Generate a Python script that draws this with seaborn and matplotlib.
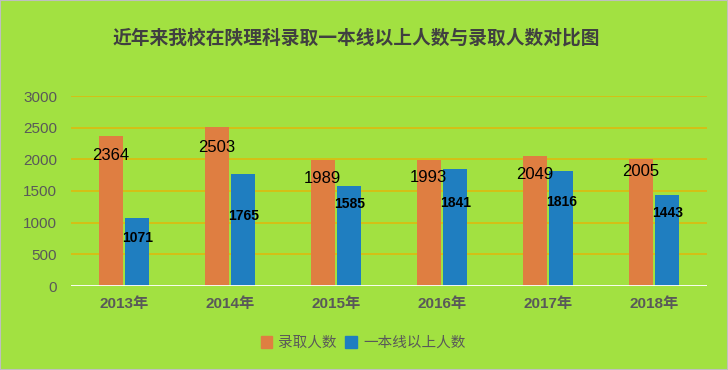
import matplotlib
matplotlib.use("Agg")
import matplotlib.pyplot as plt
import seaborn as sns
import pandas as pd
from matplotlib.patches import Patch, Rectangle

years = ["2013年", "2014年", "2015年", "2016年", "2017年", "2018年"]
admitted = [2364, 2503, 1989, 1993, 2049, 2005]
first_tier = [1071, 1765, 1585, 1841, 1816, 1443]
series_names = ["录取人数", "一本线以上人数"]
title = "近年来我校在陕理科录取一本线以上人数与录取人数对比图"
y_ticks = [0, 500, 1000, 1500, 2000, 2500, 3000]

# label anchor heights (layout, in data units)
admitted_label_y = [2068, 2184, 1690, 1710, 1763, 1805]
first_tier_label_y = [763, 1110, 1290, 1305, 1331, 1148]

BG = "#A2E141"
ORANGE = "#DF7E41"
BLUE = "#1F7EC0"
GRID = "#E2B70A"
TXT = "#595959"

sns.set_theme(style="white")
plt.rcParams["font.family"] = ["Liberation Sans", "Noto Sans CJK SC", "DejaVu Sans"]

df = pd.DataFrame({
    "year": years * 2,
    "value": admitted + first_tier,
    "series": [series_names[0]] * len(years) + [series_names[1]] * len(years),
})

fig = plt.figure(figsize=(7.28, 3.70), dpi=100)
fig.patch.set_facecolor(BG)
ax = fig.add_axes([71 / 728, 1 - 286 / 370, 636 / 728, 190 / 370])
ax.set_facecolor(BG)

sns.barplot(data=df, x="year", y="value", hue="series", order=years,
            hue_order=series_names, palette=[ORANGE, BLUE], width=0.5,
            gap=0.1, linewidth=0, saturation=1, legend=False, ax=ax, zorder=3)

ax.set_ylim(0, 3000)
ax.set_xlim(-0.5, len(years) - 0.5)
ax.set_yticks(y_ticks)
ax.set_yticklabels([str(t) for t in y_ticks], fontsize=11, color=TXT)
ax.set_xticklabels(years, fontsize=11, color=TXT, fontweight="bold")
ax.tick_params(axis="both", length=0)
ax.tick_params(axis="y", pad=10)
ax.tick_params(axis="x", pad=8)
ax.set_xlabel("")
ax.set_ylabel("")
for t in y_ticks[1:]:
    ax.axhline(t, color=GRID, lw=1.1, zorder=1)
ax.axhline(0, color="white", lw=1.3, zorder=4)
for s in ax.spines.values():
    s.set_visible(False)

off = 0.125
for i in range(len(years)):
    ax.text(i - off, admitted_label_y[i], str(admitted[i]), ha="center", va="center",
            fontsize=12, color="black", zorder=5)
    ax.text(i + off, first_tier_label_y[i], str(first_tier[i]), ha="center", va="center",
            fontsize=10, color="black", fontweight="bold", zorder=5)

fig.text(356 / 728, 1 - 38 / 370, title, ha="center", va="center",
         fontsize=13.5, fontweight="bold", color="#404040")

handles = [Patch(facecolor=ORANGE, edgecolor=ORANGE), Patch(facecolor=BLUE, edgecolor=BLUE)]
fig.legend(handles, series_names, loc="center", bbox_to_anchor=(363 / 728, 1 - 343 / 370),
           ncol=2, frameon=False, fontsize=10.5, labelcolor=TXT, handlelength=0.8,
           handleheight=0.8, handletextpad=0.4, columnspacing=0.6)

fig.patches.append(Rectangle((0, 0), 1, 1, transform=fig.transFigure, fill=False,
                             edgecolor="#BFBFBF", lw=1.5))

fig.savefig("out.png", dpi=100, facecolor=BG)
